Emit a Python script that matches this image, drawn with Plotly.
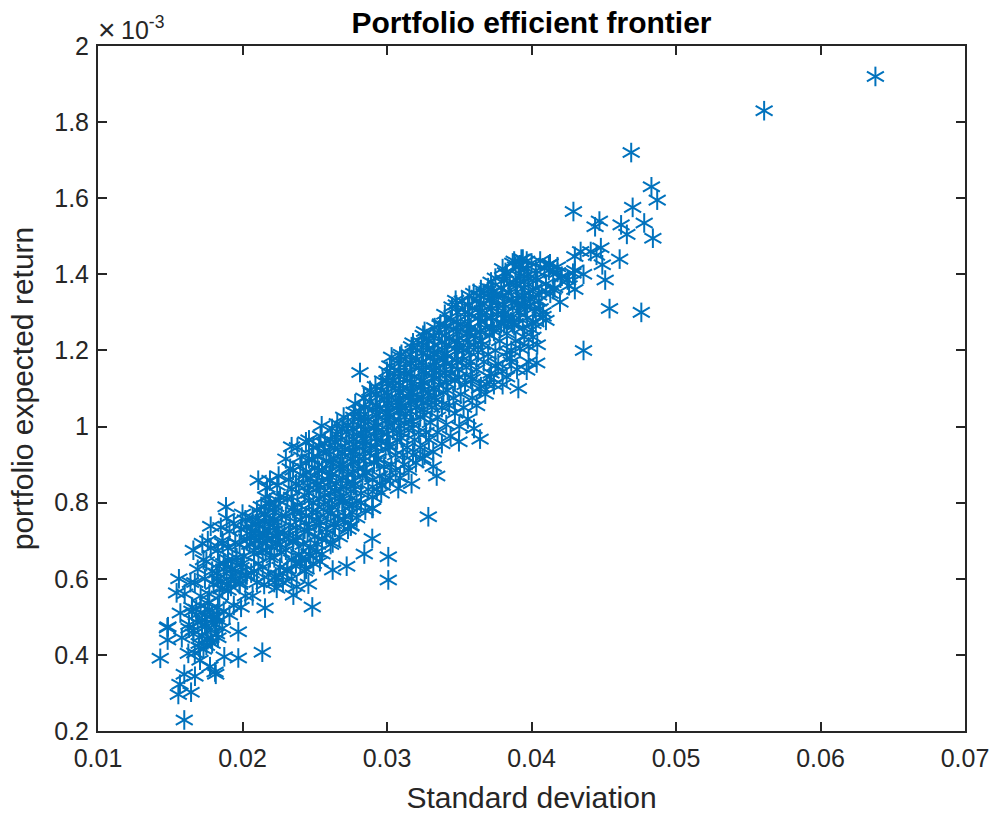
import plotly.graph_objects as go

# Standard deviation and expected return (return values in units of 1e-3).
outlier_sd = [.0638,.0561,.0469,.0483,.0487,.0470,.0429,.0444,.0447,.0462,.0478,.0484,.0466,.0448,.0461,.0441,.0434,.0445,.0449,.0451,.0454,.0476,.0436,.0430,.0430,
              .04128,.04287,.04197,.0406,.0410,.04036,.03967,.03909,.03828,.0369,.03644,.03602,.03498,.03344,.0332,.03286,.03247,.0317,.03078,.03009,.03009,.02968,.02963,.02901,.02898,.02898,
              .02843,.02813,.0276,.0275,.02749,.02721,.02624,.02624,.02536,.02483,.02456,.02375,.02352,.02237,.02156,.02137,.0219,.02109,.01971,.01971,.01891,.01886,.01874,.01863,.0178,.01722,
              .01815,.0181,.01775,.01706,.01671,.01644,.01625,.01597,.01597,.01567,.01556,.01544,.01484,.0148,.01482,.01431]
outlier_ret = [1.92,1.83,1.72,1.63,1.595,1.576,1.565,1.525,1.54,1.53,1.535,1.495,1.505,1.47,1.44,1.46,1.46,1.45,1.425,1.385,1.31,1.30,1.20,1.36,1.41,
               1.428,1.403,1.327,1.31,1.279,1.167,1.148,1.10,1.13,1.111,.967,.995,.96,.87,.933,.763,.916,.85,.837,.658,.597,.846,.846,.785,.706,.785,
               .665,1.142,.793,.74,.738,.633,.623,.694,.645,.526,.586,.579,.557,.575,.523,.407,.859,.859,.392,.461,.759,.789,.395,.693,.738,.693,
               .349,.355,.369,.386,.344,.302,.404,.229,.349,.323,.296,.563,.474,.471,.439,.391]

edge_sd = [.03032,.03475,.03275,.03367,.02548,.02656,.0234,.02439,.02772,.02882,.03002,.0430,.03967,.04128,.0420,.0415,.0425,.0436,.0405,.0395,
           .0389,.0383,.0412,.0403,.0395,.0398,.0418,.0426,.0408,.0401,.0392,.0387,.0375,.0380,.0398,.0390,.0385,.0372,.0364,.0358]
edge_ret = [1.183,1.332,1.231,1.266,1.002,1.008,.947,.96,1.038,1.095,1.121,1.447,1.435,1.428,1.39,1.36,1.385,1.40,1.345,1.32,
            1.42,1.40,1.41,1.39,1.38,1.35,1.405,1.37,1.29,1.27,1.30,1.27,1.16,1.11,1.17,1.15,1.18,1.14,1.10,1.13]

low_sd = [.0158,.0163,.0157,.0165,.0160,.0164,.0156,
          .0167,.0170,.0166,.0172,.0168,.0171,.0167,.0169,.0173,.0166,
          .0175,.0178,.0174,.0179,.0176,.0177,.0174,.0179,.0175,.0178,.0176,
          .0183,.0186,.0182,.0187,.0184,.0185,.0182,.0187,.0183,.0186,.0185,
          .0191,.0194,.0190,.0195,.0192,.0193,.0190,.0195,.0191,.0194,
          .0199,.0202,.0198,.0203,.0200,.0201,.0198,.0203,.0199,.0202,.0200,
          .0207,.0210,.0206,.0211,.0208,.0209,.0206,.0211,.0207,.0210,.0208]
low_ret = [.445,.470,.510,.525,.560,.590,.600,
           .405,.430,.465,.490,.520,.555,.590,.625,.650,.675,
           .425,.445,.480,.505,.535,.560,.600,.620,.645,.680,.700,
           .445,.470,.500,.515,.555,.590,.615,.640,.675,.700,.735,
           .505,.530,.570,.600,.625,.650,.680,.695,.725,.745,
           .525,.555,.585,.610,.640,.660,.690,.705,.730,.755,.770,
           .555,.590,.615,.640,.665,.700,.725,.745,.760,.780,.620]

mid_sd = [.0215,.0218,.0214,.0219,.0216,.0217,.0214,.0219,.0215,.0218,.0216,.0217,
          .0223,.0226,.0222,.0227,.0224,.0225,.0222,.0227,.0223,.0226,.0224,.0225,
          .0231,.0234,.0230,.0235,.0232,.0233,.0230,.0235,.0231,.0234,.0232,.0233,.0230,
          .0239,.0242,.0238,.0243,.0240,.0241,.0238,.0243,.0239,.0242,.0240,.0241,.0238,
          .0247,.0250,.0246,.0251,.0248,.0249,.0246,.0251,.0247,.0250,.0248,.0249,.0246,
          .0255,.0258,.0254,.0259,.0256,.0257,.0254,.0259,.0255,.0258,.0256,.0257,.0254,
          .0263,.0266,.0262,.0267,.0264,.0265,.0262,.0267,.0263,.0266,.0264,.0265,.0262,
          .0271,.0274,.0270,.0275,.0272,.0273,.0270,.0275,.0271,.0274,.0272,.0273,.0270,
          .0279,.0282,.0278,.0283,.0280,.0281,.0278,.0283,.0279,.0282,.0280,.0281,.0278]
mid_ret = [.585,.610,.630,.655,.675,.700,.720,.745,.770,.795,.815,.840,
           .605,.630,.655,.670,.695,.720,.745,.765,.790,.815,.845,.870,
           .625,.650,.675,.695,.715,.740,.765,.785,.810,.835,.860,.890,.915,
           .665,.690,.710,.730,.755,.775,.795,.820,.845,.870,.895,.920,.945,
           .685,.710,.735,.755,.775,.800,.825,.845,.865,.890,.915,.945,.965,
           .705,.730,.750,.775,.795,.820,.840,.860,.885,.910,.935,.955,.975,
           .745,.765,.790,.810,.830,.850,.875,.895,.915,.940,.960,.980,.995,
           .765,.790,.810,.830,.850,.875,.895,.915,.940,.960,.985,1.005,1.025,
           .805,.825,.850,.870,.890,.915,.935,.955,.980,1.000,1.020,1.040,1.060]

core_sd = [.0287,.0290,.0286,.0291,.0288,.0289,.0286,.0291,.0287,.0290,.0288,.0289,
           .0295,.0298,.0294,.0299,.0296,.0297,.0294,.0299,.0295,.0298,.0296,.0297,
           .0303,.0306,.0302,.0307,.0304,.0305,.0302,.0307,.0303,.0306,.0304,.0305,.0302,
           .0311,.0314,.0310,.0315,.0312,.0313,.0310,.0315,.0311,.0314,.0312,.0313,.0310,
           .0319,.0322,.0318,.0323,.0320,.0321,.0318,.0323,.0319,.0322,.0320,.0321,.0318,
           .0327,.0330,.0326,.0331,.0328,.0329,.0326,.0331,.0327,.0330,.0328,.0329,.0326,
           .0335,.0338,.0334,.0339,.0336,.0337,.0334,.0339,.0335,.0338,.0336,.0337,
           .0343,.0346,.0342,.0347,.0344,.0345,.0342,.0347,.0343,.0346,.0344,.0345,
           .0351,.0354,.0350,.0355,.0352,.0353,.0350,.0355,.0351,.0354,.0352,
           .0359,.0362,.0358,.0363,.0360,.0361,.0358,.0363,.0359,.0362,.0360,
           .0367,.0370,.0366,.0371,.0368,.0369,.0366,.0371,.0367,.0370,
           .0375,.0378,.0374,.0379,.0376,.0377,.0374,.0379,.0375,
           .0383,.0386,.0382,.0387,.0384,.0385,.0382,.0387,
           .0391,.0394,.0390,.0395,.0392,.0393]
core_ret = [.835,.860,.880,.905,.930,.950,.975,.995,1.020,1.045,1.065,1.090,
            .870,.895,.915,.940,.960,.985,1.005,1.030,1.050,1.075,1.095,1.120,
            .900,.925,.945,.965,.990,1.010,1.030,1.055,1.075,1.095,1.120,1.140,1.160,
            .925,.945,.970,.990,1.010,1.035,1.055,1.075,1.095,1.120,1.140,1.165,1.190,
            .965,.985,1.005,1.025,1.050,1.070,1.090,1.110,1.130,1.155,1.175,1.200,1.220,
            .985,1.010,1.030,1.050,1.070,1.090,1.115,1.135,1.155,1.180,1.200,1.225,1.250,
            1.025,1.050,1.070,1.090,1.110,1.135,1.155,1.175,1.195,1.220,1.245,1.270,
            1.055,1.075,1.095,1.120,1.140,1.160,1.185,1.205,1.230,1.255,1.280,1.315,
            1.085,1.110,1.130,1.155,1.175,1.200,1.220,1.245,1.270,1.300,1.330,
            1.125,1.150,1.170,1.195,1.215,1.240,1.260,1.285,1.310,1.330,1.350,
            1.170,1.190,1.215,1.240,1.260,1.285,1.305,1.330,1.350,1.365,
            1.200,1.225,1.250,1.270,1.295,1.320,1.345,1.365,1.390,
            1.245,1.275,1.300,1.325,1.350,1.375,1.405,1.430,
            1.320,1.345,1.370,1.395,1.425,1.440]

dense_sd = [.0235,.0237,.0236,.0234,.0237,.0235,
            .0245,.0244,.0246,.0245,.0244,.0246,
            .0253,.0252,.0253,.0252,.0253,.0252,.0253,
            .0261,.0260,.0261,.0260,.0261,.0260,.0261,
            .0269,.0268,.0269,.0268,.0269,.0268,.0269,
            .0277,.0276,.0277,.0276,.0277,.0276,.0277,
            .0285,.0284,.0285,.0284,.0285,.0284,.0285,.0284,
            .0293,.0292,.0293,.0292,.0293,.0292,.0293,.0292,
            .0301,.0300,.0301,.0300,.0301,.0300,.0301,.0300,
            .0309,.0308,.0309,.0308,.0309,.0308,.0309,.0308,.0309,
            .0317,.0316,.0317,.0316,.0317,.0316,.0317,.0316,.0317,
            .0325,.0324,.0325,.0324,.0325,.0324,.0325,.0324,.0325,
            .0333,.0332,.0333,.0332,.0333,.0332,.0333,.0332,.0333,
            .0341,.0340,.0341,.0340,.0341,.0340,.0341,.0340,
            .0349,.0348,.0349,.0348,.0349,.0348,.0349,.0348,
            .0357,.0356,.0357,.0356,.0357,.0356,.0357,
            .0365,.0364,.0365,.0364,.0365,.0364,.0365,
            .0373,.0372,.0373,.0372,.0373,.0372,
            .0381,.0380,.0381,.0380,.0381,.0380]
dense_ret = [.700,.735,.775,.815,.850,.885,
             .725,.765,.805,.845,.880,.915,
             .740,.775,.810,.850,.885,.920,.950,
             .770,.805,.840,.870,.905,.935,.965,
             .800,.835,.865,.900,.930,.965,.995,
             .845,.875,.905,.935,.965,.995,1.025,
             .880,.910,.935,.965,.990,1.020,1.050,1.075,
             .915,.945,.970,1.000,1.030,1.055,1.085,1.105,
             .950,.980,1.005,1.035,1.060,1.090,1.115,1.145,
             .985,1.015,1.040,1.065,1.090,1.115,1.140,1.165,1.185,
             1.015,1.040,1.065,1.090,1.115,1.140,1.165,1.190,1.210,
             1.045,1.070,1.095,1.120,1.145,1.170,1.195,1.220,1.240,
             1.075,1.100,1.125,1.150,1.170,1.195,1.215,1.240,1.260,
             1.115,1.140,1.165,1.190,1.215,1.240,1.265,1.295,
             1.150,1.175,1.200,1.225,1.250,1.275,1.300,1.320,
             1.195,1.220,1.245,1.270,1.295,1.320,1.345,
             1.225,1.250,1.275,1.300,1.320,1.345,1.360,
             1.260,1.285,1.310,1.335,1.355,1.380,
             1.270,1.295,1.320,1.345,1.385,1.415]

# Lower flank of the band, the solid blobs in the lower left and the upper-right lobes.
flank_sd = [.0290,.0293,.0296,.0299,.0302,.0306,.0309,.0312,.0315,.0318,.0320,.0323,.0326,.0329,.0332,.0335,.0338,.0341,.0344,.0347,
            .0350,.0353,.0356,.0359,.0362,.0365,.0368,.0371,.0374,.0377,.0380,.0383,.0386,
            .0240,.0243,.0246,.0249,.0252,.0255,.0258,.0261,.0264,.0267,.0270,.0273,.0276,.0279,.0282,.0285,
            .0222,.0225,.0228,.0231,.0234,.0237,.0241,.0244,.0247,.0251]
flank_ret = [.815,.835,.825,.860,.865,.885,.865,.900,.885,.925,.905,.945,.925,.965,.895,.985,.955,1.005,.975,1.035,
             1.000,1.050,1.020,1.075,1.055,1.105,1.085,1.130,1.110,1.165,1.145,1.195,1.170,
             .640,.620,.665,.640,.690,.665,.715,.690,.735,.710,.755,.730,.775,.760,.800,.780,
             .590,.610,.590,.620,.600,.640,.655,.625,.660,.670]

blob_sd = [.0163,.0166,.0169,.0172,.0175,.0178,.0181,.0184,.0165,.0168,.0171,.0174,.0177,.0180,.0183,.0170,.0173,.0176,.0179,.0182,
           .0180,.0183,.0186,.0189,.0192,.0195,.0198,.0184,.0187,.0190,.0193,.0196,.0199,.0202,
           .0203,.0206,.0209,.0212,.0215,.0218,.0221,.0224,.0205,.0208,.0211,.0214,.0217,.0220,.0223,.0226,.0229,.0213,.0216,.0219,.0222,.0225]
blob_ret = [.480,.455,.485,.450,.475,.445,.480,.490,.515,.505,.530,.505,.520,.495,.525,.420,.415,.440,.430,.455,
            .585,.600,.575,.600,.580,.610,.590,.640,.625,.650,.625,.655,.630,.610,
            .735,.715,.745,.720,.750,.725,.755,.730,.690,.675,.700,.675,.705,.685,.710,.690,.720,.790,.770,.800,.775,.805]

lobe_sd = [.0388,.0391,.0394,.0397,.0400,.0403,.0406,.0409,.0412,.0415,.0418,.0421,
           .0389,.0392,.0395,.0398,.0401,.0404,.0407,.0410,.0413,.0416,
           .0386,.0390,.0393,.0396,.0399,.0402,.0405,.0408,
           .0384,.0388,.0391,.0394,.0397,.0400,.0403,
           .0386,.0389,.0392,.0395,.0398,.0401,.0404]
lobe_ret = [1.435,1.420,1.440,1.415,1.430,1.410,1.435,1.415,1.425,1.405,1.420,1.395,
            1.375,1.395,1.365,1.390,1.360,1.385,1.355,1.375,1.350,1.365,
            1.335,1.320,1.340,1.315,1.335,1.310,1.330,1.300,
            1.290,1.265,1.285,1.260,1.285,1.255,1.275,
            1.200,1.225,1.205,1.235,1.210,1.235,1.215]

std_dev = outlier_sd + edge_sd + low_sd + mid_sd + core_sd + dense_sd + flank_sd + blob_sd + lobe_sd
expected_return = outlier_ret + edge_ret + low_ret + mid_ret + core_ret + dense_ret + flank_ret + blob_ret + lobe_ret

x_ticks = [0.01, 0.02, 0.03, 0.04, 0.05, 0.06, 0.07]
y_ticks = [0.2, 0.4, 0.6, 0.8, 1, 1.2, 1.4, 1.6, 1.8, 2]
y_labels = ["0.2", "0.4", "0.6", "0.8", "1", "1.2", "1.4", "1.6", "1.8", "2"]

BLUE = "#0072BD"
INK = "#262626"
FONT = "Liberation Sans"

fig = go.Figure()
for spoke_angle in (0, 60, 120):
    fig.add_trace(go.Scatter(
        x=std_dev, y=expected_return, mode="markers", showlegend=False,
        marker=dict(symbol="line-ns-open", size=14, angle=spoke_angle, color=BLUE,
                    line=dict(color=BLUE, width=2)),
    ))

axis_common = dict(
    showgrid=False, zeroline=False, showline=True, mirror="ticks",
    linecolor=INK, linewidth=2, ticks="inside", ticklen=9, tickwidth=2, tickcolor=INK,
    tickfont=dict(family=FONT, size=25, color=INK),
)
fig.update_xaxes(range=[0.01, 0.07], tickvals=x_ticks, ticktext=[f"{v:g}" for v in x_ticks],
                 ticklabelstandoff=4,
                 title=dict(text="Standard deviation", font=dict(family=FONT, size=30, color=INK), standoff=20),
                 **axis_common)
fig.update_yaxes(range=[0.2, 2], tickvals=y_ticks, ticktext=y_labels,
                 ticklabelstandoff=2,
                 title=dict(text="portfolio expected return", font=dict(family=FONT, size=30, color=INK), standoff=12),
                 **axis_common)
fig.update_layout(
    width=990, height=814, paper_bgcolor="white", plot_bgcolor="white",
    margin=dict(l=98, r=25, t=45.5, b=83, autoexpand=False),
    title=dict(text="<b>Portfolio efficient frontier</b>", x=0.5, xref="paper", xanchor="center",
               y=1 - 22 / 814, yanchor="middle", font=dict(family=FONT, size=30, color="#000000")),
    annotations=[
        dict(text="×", xref="paper", yref="paper", x=0, y=1, xanchor="left", yanchor="bottom",
             showarrow=False, xshift=-2, yshift=-2, font=dict(family=FONT, size=30, color=INK)),
        dict(text="10<sup>-3</sup>", xref="paper", yref="paper", x=0, y=1, xanchor="left", yanchor="bottom",
             showarrow=False, xshift=21, yshift=0, font=dict(family=FONT, size=25, color=INK)),
    ],
)
fig.write_html("out.html", config={"displayModeBar": False},
               post_script="document.body.style.margin='0';document.body.style.overflow='hidden';")
